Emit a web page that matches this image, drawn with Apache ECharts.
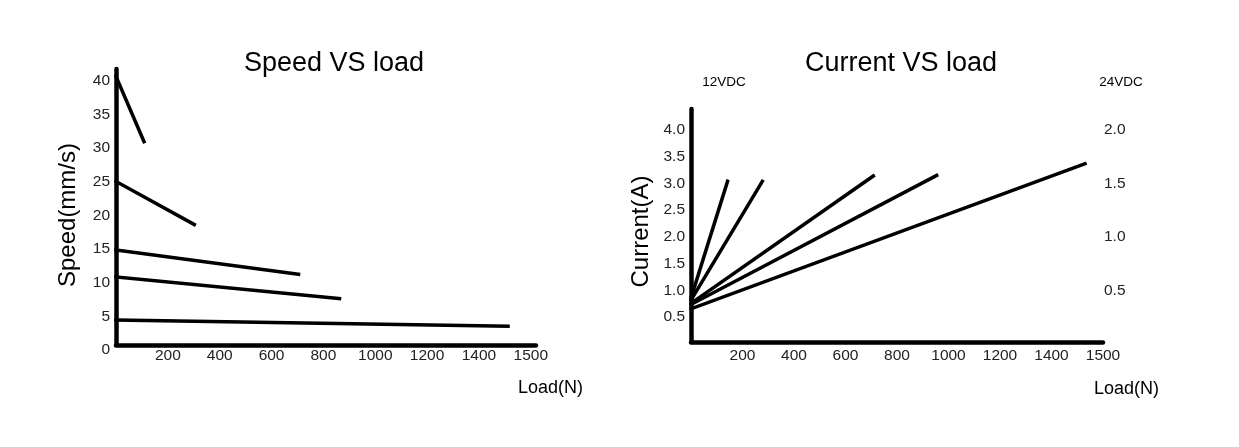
<!DOCTYPE html>
<html>
<head>
    <meta charset="UTF-8">
    <title>Speed / Current VS load</title>
    <script src="https://cdn.jsdelivr.net/npm/echarts@6/dist/echarts.min.js"></script>
    <style>
        html, body { margin: 0; padding: 0; background: #fff; }
        #main { width: 1239px; height: 447px; }
    </style>
</head>
<body>
<div id="main"></div>
<script type="text/javascript">
    // x tick labels, one per 200 N step (the last step is printed as 1500 in the original)
    var loadTickLabels = ['', '200', '400', '600', '800', '1000', '1200', '1400', '1500'];

    // Speed VS load : five straight lines, each from load 0 to an end load
    var speedEndLoad = [108, 302, 704, 862, 1512];
    var speedStart = [39.9, 24.3, 14.1, 10.1, 3.7];
    var speedEnd = [30.2, 17.9, 10.5, 6.9, 2.8];

    // Current VS load (12VDC scale on the left)
    var currentEndLoad = [142, 277, 708, 954, 1530];
    var currentStart = [0.82, 0.78, 0.72, 0.70, 0.62];
    var currentEnd = [3.00, 3.00, 3.10, 3.11, 3.33];

    var FONT = 'Liberation Sans, Arial, sans-serif';
    var axisLine = {show: true, lineStyle: {color: '#000', width: 4.5}};

    function loadLabel(v) {
        var s = loadTickLabels[Math.round(v / 200)];
        return (v % 200 === 0 && s !== undefined) ? s : '';
    }

    function oneDecimal(v) {
        return v.toFixed(1);
    }

    function buildLines(endLoad, start, end, xi, yi) {
        var out = [];
        for (var i = 0; i < endLoad.length; i++) {
            out.push({
                type: 'line',
                xAxisIndex: xi,
                yAxisIndex: yi,
                symbol: 'none',
                silent: true,
                lineStyle: {color: '#000', width: 3.5, cap: 'square'},
                data: [[0, start[i]], [endLoad[i], end[i]]]
            });
        }
        return out;
    }

    function titleText(text, x, y, size) {
        return {
            text: text, left: x, top: y, textAlign: 'center', padding: 0,
            textStyle: {fontSize: size, fontWeight: 'normal', color: '#000', fontFamily: FONT}
        };
    }

    var myChart = echarts.init(document.getElementById('main'));

    var option = {
        animation: false,
        backgroundColor: '#fff',
        textStyle: {fontFamily: FONT},
        title: [
            titleText('Speed VS load', 334, 50, 27),
            titleText('Current VS load', 901, 50, 27),
            titleText('12VDC', 724, 75, 13.5),
            titleText('24VDC', 1121, 75, 13.5)
        ],
        grid: [
            {left: 116, right: 703, top: 69, bottom: 102},
            {left: 691, right: 136, top: 109, bottom: 105}
        ],
        xAxis: [
            {
                type: 'value', gridIndex: 0, min: 0, max: 1620, interval: 200,
                name: 'Load(N)', nameLocation: 'end', nameGap: -18,
                nameTextStyle: {fontSize: 18, color: '#000', align: 'left', verticalAlign: 'top', padding: [34, 0, 0, 0]},
                axisLine: axisLine, axisTick: {show: false}, splitLine: {show: false},
                axisLabel: {fontSize: 15.5, color: '#222', margin: 3, formatter: loadLabel,
                    showMinLabel: false, showMaxLabel: false}
            },
            {
                type: 'value', gridIndex: 1, min: 0, max: 1600, interval: 200,
                name: 'Load(N)', nameLocation: 'end', nameGap: -9,
                nameTextStyle: {fontSize: 18, color: '#000', align: 'left', verticalAlign: 'top', padding: [38, 0, 0, 0]},
                axisLine: axisLine, axisTick: {show: false}, splitLine: {show: false},
                axisLabel: {fontSize: 15.5, color: '#222', margin: 6, formatter: loadLabel,
                    showMinLabel: false}
            }
        ],
        yAxis: [
            {
                type: 'value', gridIndex: 0, min: 0, max: 41, interval: 5,
                name: 'Speed(mm/s)', nameLocation: 'middle', nameGap: 36,
                nameTextStyle: {fontSize: 24, color: '#000', padding: [0, 16, 0, 0]},
                axisLine: axisLine, axisTick: {show: false}, splitLine: {show: false},
                axisLabel: {fontSize: 15.5, color: '#222', margin: 6, showMaxLabel: false,
                    verticalAlign: 'top', lineHeight: 10}
            },
            {
                type: 'value', gridIndex: 1, min: 0, max: 4.35, interval: 0.5,
                name: 'Current(A)', nameLocation: 'middle', nameGap: 38,
                nameTextStyle: {fontSize: 24, color: '#000', padding: [0, 12, 0, 0]},
                axisLine: axisLine, axisTick: {show: false}, splitLine: {show: false},
                axisLabel: {fontSize: 15.5, color: '#222', margin: 6, showMinLabel: false, showMaxLabel: false,
                    verticalAlign: 'top', lineHeight: 4, formatter: oneDecimal}
            },
            {
                type: 'value', gridIndex: 1, position: 'right', min: 0, max: 2.175, interval: 0.5,
                axisLine: {show: false}, axisTick: {show: false}, splitLine: {show: false},
                axisLabel: {fontSize: 15.5, color: '#222', margin: 1, showMinLabel: false, showMaxLabel: false,
                    verticalAlign: 'top', lineHeight: 4, formatter: oneDecimal}
            }
        ],
        series: buildLines(speedEndLoad, speedStart, speedEnd, 0, 0)
            .concat(buildLines(currentEndLoad, currentStart, currentEnd, 1, 1))
    };
    myChart.setOption(option);
</script>
</body>
</html>
